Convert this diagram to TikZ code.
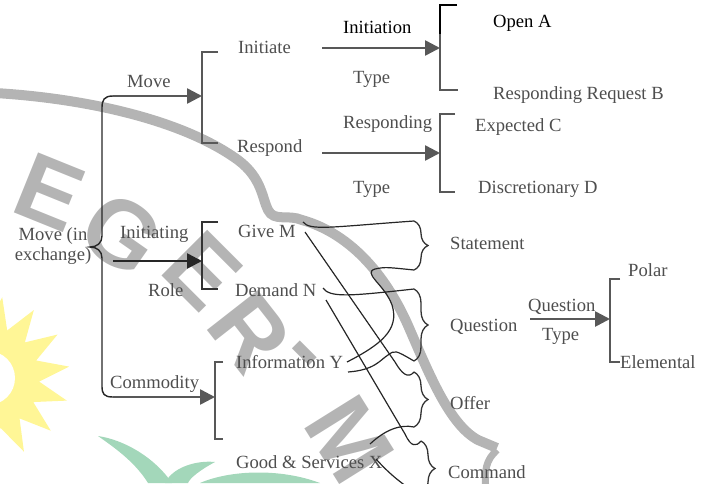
\documentclass[tikz,border=0pt]{standalone}
\usepackage{fontspec}
\setmainfont{Liberation Serif}
\newfontfamily\diagserif{Liberation Serif}
\newfontfamily\wmsans{Liberation Sans}
\usetikzlibrary{arrows.meta,decorations.pathreplacing,shapes.geometric}
\definecolor{txtgray}{RGB}{78,78,78}
\definecolor{lngray}{RGB}{88,88,88}
\definecolor{wmgray}{RGB}{180,180,180}
\definecolor{sunyel}{RGB}{255,246,150}
\definecolor{leafgrn}{RGB}{163,215,186}
\begin{document}
\begin{tikzpicture}[x=1pt,y=-1pt,
  lbl/.style={font=\diagserif\fontsize{18.6}{20}\selectfont, text=txtgray, inner sep=0pt, anchor=base west},
  darktext/.style={text=black},
  arr/.style={draw=lngray, line width=2.6pt, -{Triangle[length=15pt,width=15pt]}},
  darkarr/.style={arr, draw=black!85},
  brk/.style={draw=lngray, line width=2pt},
  bigbrace/.style={draw=black!85, line width=1.4pt},
  cbrace/.style={draw=black!80, line width=1.3pt, decorate, decoration={brace, amplitude=14pt, aspect=0.5}},
  link/.style={draw=black!85, line width=1.2pt},
  wmletter/.style={font=\wmsans\bfseries\fontsize{94}{94}\selectfont, text=wmgray, inner sep=0pt, anchor=center}
]
\path[use as bounding box] (0,0) rectangle (709,483);
\clip (0,0) rectangle (709,483);

% ---------------- watermark (background) ----------------
\node[star, star points=15, star point ratio=1.6, minimum size=164pt, fill=sunyel, draw=none, shape border rotate=-10] (sun) at (-12,378) {};
\fill[white] (sun.center) circle (27);
\fill[leafgrn] (98,436) .. controls (125,440) and (155,458) .. (172,483) -- (148,483) .. controls (135,462) and (115,448) .. cycle;
\fill[leafgrn] (165,483) .. controls (172,468) and (195,460) .. (215,462) .. controls (200,470) and (190,478) .. (188,483) -- cycle;
\fill[leafgrn] (200,483) .. controls (230,470) and (280,468) .. (320,483) -- cycle;
\draw[wmgray, line width=10pt] (-5,93) .. controls (80,98) and (180,118) .. (238,160) .. controls (262,178) and (262,198) .. (268,210) .. controls (274,222) and (288,214) .. (302,220) .. controls (352,234) and (388,278) .. (410,330) .. controls (430,376) and (450,425) .. (478,440) .. controls (488,444) .. (497,448);
\draw[wmgray, line width=7pt] (497,450) .. controls (486,460) and (484,470) .. (486,490);
\node[wmletter, rotate=-22] (wE1) at (50,192) {E};
\node[wmletter, rotate=-35] (wG) at (122,234) {G};
\node[wmletter, rotate=-45] (wE2) at (203,271) {E};
\node[wmletter, rotate=-52] (wR) at (250,332) {R};
\node[wmletter, rotate=-45] (wD) at (298,360) {-};
\node[wmletter, rotate=-58] (wM) at (350,440) {M};

% ---------------- labels ----------------
\node[lbl] (initiate) at (238,53) {Initiate};
\node[lbl] (move) at (127,87) {Move};
\node[lbl] (respond) at (237,152) {Respond};
\node[lbl, darktext] (initiation) at (343,33) {Initiation};
\node[lbl] (type1) at (353,83) {Type};
\node[lbl, darktext] (openA) at (493,27) {Open A};
\node[lbl] (reqB) at (493,99) {Responding Request B};
\node[lbl] (responding) at (343,128) {Responding};
\node[lbl] (expC) at (475,131) {Expected C};
\node[lbl] (type2) at (353,193) {Type};
\node[lbl] (discD) at (478,193) {Discretionary D};
\node[lbl, anchor=center, align=center] (mie) at (53,246) {Move (in\\exchange)};
\node[lbl] (initiating) at (120,238) {Initiating};
\node[lbl] (role) at (148,296) {Role};
\node[lbl] (giveM) at (238,237) {Give M};
\node[lbl] (demandN) at (235,296) {Demand N};
\node[lbl] (infoY) at (236,368) {Information Y};
\node[lbl] (commodity) at (110,388) {Commodity};
\node[lbl] (goodsX) at (236,468) {Good \& Services X};
\node[lbl] (statement) at (450,249) {Statement};
\node[lbl] (question) at (450,331) {Question};
\node[lbl] (offer) at (450,409) {Offer};
\node[lbl] (command) at (448,478) {Command};
\node[lbl] (question2) at (528,311) {Question};
\node[lbl] (type3) at (542,340) {Type};
\node[lbl] (polar) at (628,276) {Polar};
\node[lbl] (elemental) at (620,368) {Elemental};

% ---------------- coordinates ----------------
\coordinate (mvA) at (113,96);   \coordinate (mvT) at (202,96);
\coordinate (rlA) at (113,261);  \coordinate (rlT) at (202,261);
\coordinate (cmA) at (113,397);  \coordinate (cmT) at (215,397);
\coordinate (inA) at (322,48);   \coordinate (inT) at (440,48);
\coordinate (rsA) at (322,153);  \coordinate (rsT) at (440,153);
\coordinate (qtA) at (530,319);  \coordinate (qtT) at (610,319);
\coordinate (st1) at (414,221);  \coordinate (st2) at (414,270);
\coordinate (qu1) at (414,289);  \coordinate (qu2) at (414,361);
\coordinate (of1) at (414,372);  \coordinate (of2) at (414,427);
\coordinate (co1) at (421,441);  \coordinate (co2) at (421,496);
\coordinate (gm1) at (303,222);  \coordinate (gm2) at (305,232);
\coordinate (dn1) at (323,288);  \coordinate (dn2) at (326,300);
\coordinate (iy1) at (347,362);  \coordinate (iy2) at (348,372);
\coordinate (gx1) at (370,444);  \coordinate (gx2) at (376,459);

% ---------------- big brace ----------------
\draw[bigbrace] (mvA) .. controls (104,96) and (102,100) .. (102,108) -- (102,236)
  .. controls (102,243) and (97,247) .. (90,247)
  .. controls (97,247) and (102,251) .. (102,258) -- (102,386)
  .. controls (102,394) and (104,397) .. (cmA);

% ---------------- brackets ----------------
\draw[brk] (218,52) -- (202,52) -- (202,143) -- (218,143);
\draw[brk, draw=black!80] (218,222) -- (202,222) -- (202,289) -- (218,289);
\draw[brk] (223,362) -- (215,362) -- (215,439) -- (223,439);
\draw[brk] (440,33) -- (440,90) -- (458,90);
\draw[brk, draw=black] (457,5) -- (440,5) -- (440,34);
\draw[brk] (455,114) -- (440,114) -- (440,192) -- (455,192);
\draw[brk] (620,279) -- (610,279) -- (610,362) -- (620,362);

% ---------------- arrows ----------------
\draw[arr] (mvA) -- (mvT);
\draw[darkarr] (rlA) -- (rlT);
\draw[arr] (cmA) -- (cmT);
\draw[arr] (inA) -- (inT);
\draw[arr] (rsA) -- (rsT);
\draw[arr] (qtA) -- (qtT);

% ---------------- curly braces ----------------
\draw[cbrace] (st1) -- (st2);
\draw[cbrace] (qu1) -- (qu2);
\draw[cbrace] (of1) -- (of2);
\draw[cbrace] (co1) -- (co2);

% ---------------- links ----------------
\draw[link] (gm1) .. controls (310,231) and (330,227) .. (st1);
\draw[link] (gm2) -- (395,362) .. controls (402,374) and (408,379) .. (of1);
\draw[link] (dn1) .. controls (330,298) and (350,296) .. (qu1);
\draw[link] (dn2) -- (405,434) .. controls (411,447) and (416,447) .. (co1);
\draw[link] (iy1) .. controls (380,345) and (400,330) .. (392,305) .. controls (385,285) and (362,273) .. (375,269) .. controls (385,267) .. (st2);
\draw[link] (iy2) .. controls (375,370) and (380,360) .. (388,355) .. controls (395,350) .. (qu2);
\draw[link] (gx1) .. controls (385,430) and (400,424) .. (of2);
\draw[link] (gx2) .. controls (386,470) and (398,482) .. (co2);
\end{tikzpicture}
\end{document}
